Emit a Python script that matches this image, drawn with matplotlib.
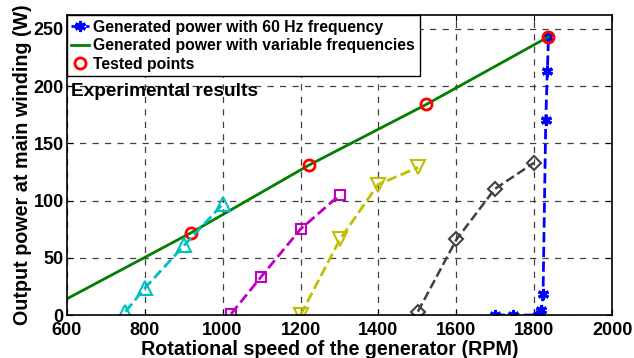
import numpy as np
import matplotlib
matplotlib.use('Agg')
import matplotlib.pyplot as plt

plt.rcParams['font.family'] = 'Liberation Sans'
plt.rcParams['font.weight'] = 'bold'

# tested points (variable frequency)
rpm_test = [920, 1222, 1523, 1836]
p_test = [72, 131, 184, 243]

# fitted line for variable frequencies
rpm_var = [600, 920, 1222, 1523, 1836]
p_var = [14, 72, 131, 184, 243]

# 60 Hz generation
rpm_60 = [1698, 1744, 1810, 1815, 1818, 1822, 1829, 1833, 1836]
p_60 = [0, 0, 0, 1, 4, 18, 170, 213, 243]

# other frequency runs
rpm_a = [751, 802, 902, 1001]
p_a = [3, 24, 61, 97]
rpm_b = [1022, 1098, 1200, 1301]
p_b = [1, 33, 75, 105]
rpm_c = [1200, 1301, 1399, 1502]
p_c = [0, 66, 114, 129]
rpm_d = [1501, 1600, 1698, 1799]
p_d = [3, 66, 110, 133]

fig = plt.figure(figsize=(6.34, 3.58), dpi=100)
ax = fig.add_axes([0.105, 0.12, 0.861, 0.838])

ax.plot(rpm_60, p_60, '--', color='#0000ff', lw=2, marker=(6, 2, 0),
        ms=8, mew=2.2, label='Generated power with 60 Hz frequency')
ax.plot(rpm_var, p_var, '-', color='#007f00', lw=2,
        label='Generated power with variable frequencies')
ax.plot(rpm_test, p_test, 'o', color='#ff0000', ms=8, mfc='none', mew=2,
        label='Tested points')

ax.plot(rpm_a, p_a, '--', color='#00bfbf', lw=2, marker='^', ms=10, mfc='none', mew=1.5)
ax.plot(rpm_b, p_b, '--', color='#bf00bf', lw=2, marker='s', ms=7, mfc='none', mew=1.5)
ax.plot(rpm_c, p_c, '--', color='#bfbf00', lw=2, marker='v', ms=10, mfc='none', mew=1.5)
ax.plot(rpm_d, p_d, '--', color='#404040', lw=1.8, marker='D', ms=7, mfc='none', mew=1.5)

ax.set_xlim(600, 2000)
ax.set_ylim(0, 262)
ax.set_xticks(np.arange(600, 2001, 200))
ax.set_yticks(np.arange(0, 251, 50))
ax.grid(True, color='#404040', linestyle=(0, (5, 5)), linewidth=0.9)
ax.tick_params(axis='both', direction='in', top=True, right=True, labelsize=13, length=4)
ax.tick_params(axis='x', pad=5)
ax.tick_params(axis='y', pad=2)
for lab in ax.get_xticklabels() + ax.get_yticklabels():
    lab.set_fontweight('bold')
for s in ax.spines.values():
    s.set_linewidth(1.2)

ax.set_xlabel('Rotational speed of the generator (RPM)', fontsize=14.2,
              fontweight='bold', labelpad=0.5)
ax.xaxis.label.set_x(0.483)
ax.set_ylabel('Output power at main winding (W)', fontsize=14.2,
              fontweight='bold', labelpad=1)

ax.text(611, 191, 'Experimental results', fontsize=13.7, fontweight='bold')

leg = ax.legend(loc='upper left', bbox_to_anchor=(0, 1), borderaxespad=0,
                fancybox=False, edgecolor='black', framealpha=1,
                prop={'size': 11.3, 'weight': 'bold'}, handlelength=1.1,
                handletextpad=0.3, labelspacing=0.22, borderpad=0.3)
leg.get_frame().set_linewidth(1.0)

fig.savefig('out.png', dpi=100)
